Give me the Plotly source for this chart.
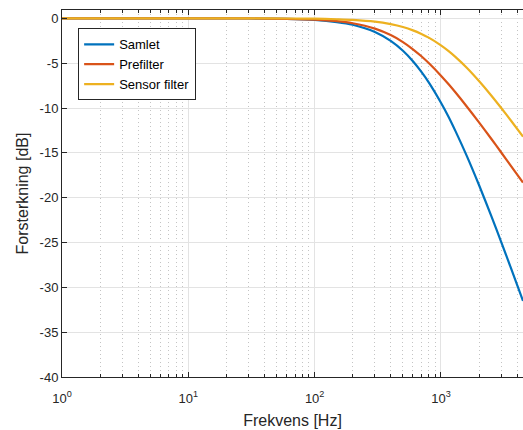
import plotly.graph_objects as go
import numpy as np

# Frequencies [Hz] and gains [dB]
freq = [1, 10, 30, 60, 100, 150, 200, 300, 400, 500, 600, 700, 800, 1000,
        1150, 1300, 1600, 2000, 2500, 3000, 3600, 4460]
samlet = [0.0, 0.0, -0.02, -0.07, -0.18, -0.42, -0.72, -1.52, -2.52, -3.62, -4.79,
          -5.98, -7.14, -9.41, -11.0, -12.55, -15.34, -18.59, -22.03, -24.96, -27.95, -31.52]
prefilter = [0.0, 0.0, -0.01, -0.05, -0.14, -0.32, -0.55, -1.15, -1.87, -2.65, -3.45,
             -4.23, -4.99, -6.40, -7.36, -8.25, -9.83, -11.60, -13.43, -14.96, -16.50, -18.32]
sensor = [0.0, 0.0, 0.0, -0.02, -0.04, -0.10, -0.17, -0.37, -0.65, -0.97, -1.34,
          -1.74, -2.15, -3.01, -3.66, -4.30, -5.51, -6.99, -8.60, -10.00, -11.45, -13.20]

series_names = ["Samlet", "Prefilter", "Sensor filter"]
colors = ["#0072BD", "#D95319", "#EDB120"]

x_tickvals = [1, 10, 100, 1000]
x_ticktext = ["10<sup>0</sup>", "10<sup>1</sup>", "10<sup>2</sup>", "10<sup>3</sup>"]
x_minor = [m * d for d in [1, 10, 100, 1000] for m in range(2, 10) if m * d <= 4460]
y_tickvals = [0, -5, -10, -15, -20, -25, -30, -35, -40]

fig = go.Figure()
for name, vals, c in zip(series_names, [samlet, prefilter, sensor], colors):
    fig.add_trace(go.Scatter(x=freq, y=vals, mode="lines", name=name,
                             line=dict(color=c, width=2.2, shape="spline", smoothing=0.8)))

font_fam = "Liberation Sans, Arial, Helvetica, sans-serif"
axcol = "#262626"

fig.update_layout(
    width=523, height=430,
    margin=dict(l=62, r=0, t=10, b=53, autoexpand=False),
    paper_bgcolor="white", plot_bgcolor="white",
    font=dict(family=font_fam, color=axcol, size=13),
    showlegend=True,
    legend=dict(x=0.035, y=0.95, xanchor="left", yanchor="top",
                bgcolor="white", bordercolor=axcol, borderwidth=1,
                font=dict(size=13, color="black"), tracegroupgap=0),
)
fig.update_xaxes(
    type="log", range=[0, np.log10(4460)],
    tickvals=x_tickvals, ticktext=x_ticktext,
    ticks="inside", ticklen=5, tickcolor=axcol,
    showline=True, linecolor=axcol, linewidth=1, mirror="ticks",
    showgrid=True, gridcolor="#e3e3e3", gridwidth=1,
    minor=dict(tickvals=x_minor, ticks="inside", ticklen=3, tickcolor=axcol,
               showgrid=True, gridcolor="#c4c4c4", griddash="1px,3px", gridwidth=1),
    zeroline=False, automargin=False,
    ticklabelstandoff=9,
    tickfont=dict(size=13, color=axcol),
    title=dict(text="Frekvens [Hz]", font=dict(size=16, color=axcol), standoff=10),
)
fig.update_yaxes(
    range=[-40, 0.93],
    tickvals=y_tickvals, ticktext=[str(v) for v in y_tickvals],
    ticks="inside", ticklen=5, tickcolor=axcol,
    showline=True, linecolor=axcol, linewidth=1, mirror=False,
    showgrid=True, gridcolor="#e3e3e3", gridwidth=1,
    zeroline=False, automargin=False,
    tickfont=dict(size=13, color=axcol),
    title=dict(text="Forsterkning [dB]", font=dict(size=16, color=axcol), standoff=7),
)

fig.write_html("out.html",
               config={"displayModeBar": False},
               post_script="document.body.style.margin='0';document.body.style.overflow='hidden';")
